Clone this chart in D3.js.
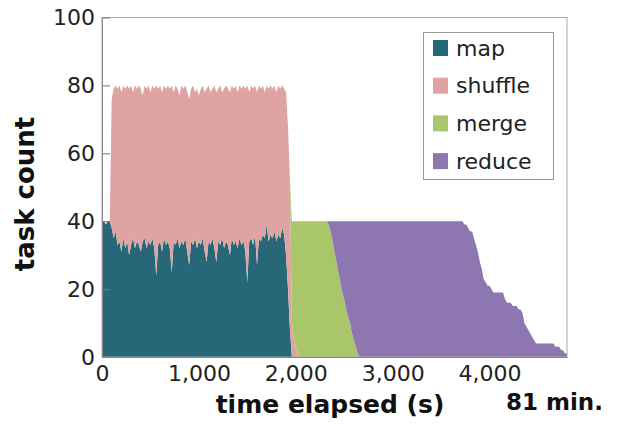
<!DOCTYPE html>
<html>

<head>
    <meta charset="utf-8">
    <title>task count over time</title>
    <script src="https://d3js.org/d3.v7.min.js"></script>
    <style>
        body { margin: 0; background: #fff; }
    </style>
</head>

<body>
    <script type="text/javascript">

        //Sample times (seconds since job start)
        var timeSec = [
            0, 20, 40, 60, 80, 100, 120, 140, 160, 180, 200, 220, 240, 260, 280, 300, 320, 340, 360, 380,
            400, 420, 440, 460, 480, 500, 520, 540, 560, 580, 600, 620, 640, 660, 680, 700, 720, 740, 760, 780,
            800, 820, 840, 860, 880, 900, 920, 940, 960, 980, 1000, 1020, 1040, 1060, 1080, 1100, 1120, 1140, 1160, 1180,
            1200, 1220, 1240, 1260, 1280, 1300, 1320, 1340, 1360, 1380, 1400, 1420, 1440, 1460, 1480, 1500, 1520, 1540, 1560, 1580,
            1600, 1620, 1640, 1660, 1680, 1700, 1720, 1740, 1760, 1780, 1800, 1820, 1840, 1860, 1880, 1900, 1920, 1940, 1960,
            1980, 2000, 2020, 2040, 2200,
            2320, 2340, 2360, 2380, 2400, 2420, 2440, 2460, 2480, 2500, 2520, 2540, 2560, 2580, 2600, 2620, 2640, 2660,
            3000, 3400, 3700,
            3720, 3740, 3760, 3780, 3800, 3820, 3840, 3860, 3880, 3900, 3920, 3940, 3960, 3980, 4000, 4020, 4040, 4060, 4080, 4100,
            4120, 4140, 4160, 4180, 4200, 4220, 4240, 4260, 4280, 4300, 4320, 4340, 4360, 4380, 4400, 4420, 4440, 4460, 4480, 4500,
            4520, 4540, 4560, 4580, 4600, 4620, 4640, 4660, 4680, 4700, 4720, 4740, 4760, 4780, 4800
        ];

        //Running task counts per phase at each sample time
        var mapTasks = [
            40, 40, 39, 40, 40, 38, 35, 37, 33, 34, 31, 35, 32, 34, 30, 33, 35, 32, 34, 33,
            31, 34, 35, 32, 34, 33, 35, 32, 24, 33, 34, 31, 35, 33, 34, 32, 25, 34, 33, 35,
            32, 34, 33, 35, 31, 27, 34, 33, 35, 32, 34, 33, 35, 31, 28, 34, 33, 35, 32, 28,
            34, 33, 35, 32, 34, 33, 30, 35, 33, 34, 32, 35, 33, 34, 31, 22, 34, 35, 33, 36,
            27, 35, 34, 36, 35, 39, 34, 36, 35, 37, 34, 36, 35, 38, 36, 30, 20, 8, 0,
            0, 0, 0, 0, 0,
            0, 0, 0, 0, 0, 0, 0, 0, 0, 0, 0, 0, 0, 0, 0, 0, 0, 0,
            0, 0, 0,
            0, 0, 0, 0, 0, 0, 0, 0, 0, 0, 0, 0, 0, 0, 0, 0, 0, 0, 0, 0,
            0, 0, 0, 0, 0, 0, 0, 0, 0, 0, 0, 0, 0, 0, 0, 0, 0, 0, 0, 0,
            0, 0, 0, 0, 0, 0, 0, 0, 0, 0, 0, 0, 0, 0, 0
        ];

        var shuffleTasks = [
            0, 0, 0, 0, 0, 38, 44, 43, 46, 46, 47, 45, 47, 46, 49, 47, 43, 48, 45, 47,
            48, 43, 45, 47, 46, 45, 45, 47, 56, 46, 46, 47, 45, 46, 46, 47, 55, 44, 47, 44,
            45, 46, 46, 45, 47, 49, 45, 47, 43, 47, 43, 46, 45, 47, 51, 46, 45, 44, 48, 50,
            45, 47, 43, 47, 46, 46, 48, 45, 46, 46, 46, 45, 46, 46, 48, 58, 44, 45, 46, 44,
            51, 45, 45, 44, 43, 41, 45, 44, 44, 43, 44, 44, 44, 42, 43, 48, 48, 44, 10,
            6, 3, 1, 0, 0,
            0, 0, 0, 0, 0, 0, 0, 0, 0, 0, 0, 0, 0, 0, 0, 0, 0, 0,
            0, 0, 0,
            0, 0, 0, 0, 0, 0, 0, 0, 0, 0, 0, 0, 0, 0, 0, 0, 0, 0, 0, 0,
            0, 0, 0, 0, 0, 0, 0, 0, 0, 0, 0, 0, 0, 0, 0, 0, 0, 0, 0, 0,
            0, 0, 0, 0, 0, 0, 0, 0, 0, 0, 0, 0, 0, 0, 0
        ];

        var mergeTasks = [
            0, 0, 0, 0, 0, 0, 0, 0, 0, 0, 0, 0, 0, 0, 0, 0, 0, 0, 0, 0,
            0, 0, 0, 0, 0, 0, 0, 0, 0, 0, 0, 0, 0, 0, 0, 0, 0, 0, 0, 0,
            0, 0, 0, 0, 0, 0, 0, 0, 0, 0, 0, 0, 0, 0, 0, 0, 0, 0, 0, 0,
            0, 0, 0, 0, 0, 0, 0, 0, 0, 0, 0, 0, 0, 0, 0, 0, 0, 0, 0, 0,
            0, 0, 0, 0, 0, 0, 0, 0, 0, 0, 0, 0, 0, 0, 0, 0, 0, 0, 30,
            34, 37, 39, 40, 40,
            40, 39, 37, 34, 31, 28, 25, 22, 19, 17, 14, 12, 10, 7, 5, 3, 1, 0,
            0, 0, 0,
            0, 0, 0, 0, 0, 0, 0, 0, 0, 0, 0, 0, 0, 0, 0, 0, 0, 0, 0, 0,
            0, 0, 0, 0, 0, 0, 0, 0, 0, 0, 0, 0, 0, 0, 0, 0, 0, 0, 0, 0,
            0, 0, 0, 0, 0, 0, 0, 0, 0, 0, 0, 0, 0, 0, 0
        ];

        var reduceTasks = [
            0, 0, 0, 0, 0, 0, 0, 0, 0, 0, 0, 0, 0, 0, 0, 0, 0, 0, 0, 0,
            0, 0, 0, 0, 0, 0, 0, 0, 0, 0, 0, 0, 0, 0, 0, 0, 0, 0, 0, 0,
            0, 0, 0, 0, 0, 0, 0, 0, 0, 0, 0, 0, 0, 0, 0, 0, 0, 0, 0, 0,
            0, 0, 0, 0, 0, 0, 0, 0, 0, 0, 0, 0, 0, 0, 0, 0, 0, 0, 0, 0,
            0, 0, 0, 0, 0, 0, 0, 0, 0, 0, 0, 0, 0, 0, 0, 0, 0, 0, 0,
            0, 0, 0, 0, 0,
            0, 1, 3, 6, 9, 12, 15, 18, 21, 23, 26, 28, 30, 33, 35, 37, 39, 40,
            40, 40, 40,
            40, 39, 39, 38, 37, 37, 35, 33, 31, 28, 26, 23, 22, 21, 21, 20, 19, 19, 19, 19,
            19, 19, 17, 16, 16, 16, 15, 15, 15, 14, 14, 13, 10, 9, 8, 7, 6, 5, 4, 4,
            4, 4, 4, 4, 4, 4, 4, 4, 3, 3, 3, 2, 2, 1, 1
        ];

        //Phase names, legend labels and colours
        var phases = ["map", "shuffle", "merge", "reduce"];
        var phaseColors = ["#276878", "#dfa4a2", "#a9c66b", "#8e77b1"];

        //Tick values
        var xTicks = [0, 1000, 2000, 3000, 4000];
        var yTicks = [0, 20, 40, 60, 80, 100];

        //Build table for d3.stack
        var table = timeSec.map(function (t, i) {
            return { t: t, map: mapTasks[i], shuffle: shuffleTasks[i], merge: mergeTasks[i], reduce: reduceTasks[i] };
        });

        var width = 617, height = 425;
        var plot = { left: 102, right: 567, top: 17.5, bottom: 357 };

        var svg = d3.select("body")
            .append("svg")
            .attr("width", width)
            .attr("height", height)
            .style("font-family", "'DejaVu Sans', Verdana, sans-serif");

        //Scales
        var xScale = d3.scaleLinear()
            .domain([0, 4800])
            .range([plot.left, plot.right]);

        var yScale = d3.scaleLinear()
            .domain([0, 100])
            .range([plot.bottom, plot.top]);

        var color = d3.scaleOrdinal().domain(phases).range(phaseColors);

        //Stacked areas (no stroke, zero-height layers would leave a line)
        var stacked = d3.stack().keys(phases)(table);

        var area = d3.area()
            .x(function (d) { return xScale(d.data.t); })
            .y0(function (d) { return yScale(d[0]); })
            .y1(function (d) { return yScale(d[1]); });

        svg.append("g")
            .selectAll("path")
            .data(stacked)
            .enter()
            .append("path")
            .attr("d", area)
            .attr("fill", function (d) { return color(d.key); });

        //Plot frame
        svg.append("rect")
            .attr("x", plot.left)
            .attr("y", plot.top)
            .attr("width", plot.right - plot.left)
            .attr("height", plot.bottom - plot.top)
            .attr("fill", "none")
            .attr("stroke", "#a8a8a8")
            .attr("stroke-width", 1);

        //Y axis
        var yAxis = svg.append("g")
            .attr("transform", "translate(" + plot.left + ",0)")
            .call(d3.axisLeft(yScale).tickValues(yTicks).tickSizeInner(-8).tickSizeOuter(0).tickPadding(7));

        //X axis
        var xAxis = svg.append("g")
            .attr("transform", "translate(0," + plot.bottom + ")")
            .call(d3.axisBottom(xScale).tickValues(xTicks).tickSize(0).tickPadding(8)
                .tickFormat(d3.format(",")));

        [xAxis, yAxis].forEach(function (ax) {
            ax.select(".domain").attr("stroke", "#888");
            ax.selectAll(".tick line").attr("stroke", "#777");
            ax.selectAll("text")
                .style("font-size", "22px")
                .style("fill", "#222")
                .style("font-family", "'DejaVu Sans', Verdana, sans-serif");
        });

        //Axis titles
        svg.append("text")
            .attr("x", 330)
            .attr("y", 413)
            .attr("text-anchor", "middle")
            .style("font-size", "25px")
            .style("font-weight", "bold")
            .style("fill", "#111")
            .text("time elapsed (s)");

        svg.append("text")
            .attr("x", 506)
            .attr("y", 410)
            .style("font-size", "23px")
            .style("font-weight", "bold")
            .style("fill", "#111")
            .text("81 min.");

        svg.append("text")
            .attr("transform", "translate(34,194) rotate(-90)")
            .attr("text-anchor", "middle")
            .style("font-size", "26px")
            .style("font-weight", "bold")
            .style("fill", "#111")
            .text("task count");

        //Legend
        var legend = svg.append("g");

        legend.append("rect")
            .attr("x", 423.5)
            .attr("y", 32.5)
            .attr("width", 130)
            .attr("height", 147)
            .attr("fill", "#fff")
            .attr("stroke", "#999");

        var rows = legend.selectAll("g.row")
            .data(phases)
            .enter()
            .append("g")
            .attr("class", "row")
            .attr("transform", function (d, i) { return "translate(433," + (48 + i * 37.7) + ")"; });

        rows.append("rect")
            .attr("x", 0)
            .attr("y", -8)
            .attr("width", 15)
            .attr("height", 16)
            .attr("fill", function (d) { return color(d); });

        rows.append("text")
            .attr("x", 23)
            .attr("dy", "0.35em")
            .style("font-size", "22px")
            .style("fill", "#222")
            .text(function (d) { return d; });

    </script>
</body>

</html>
